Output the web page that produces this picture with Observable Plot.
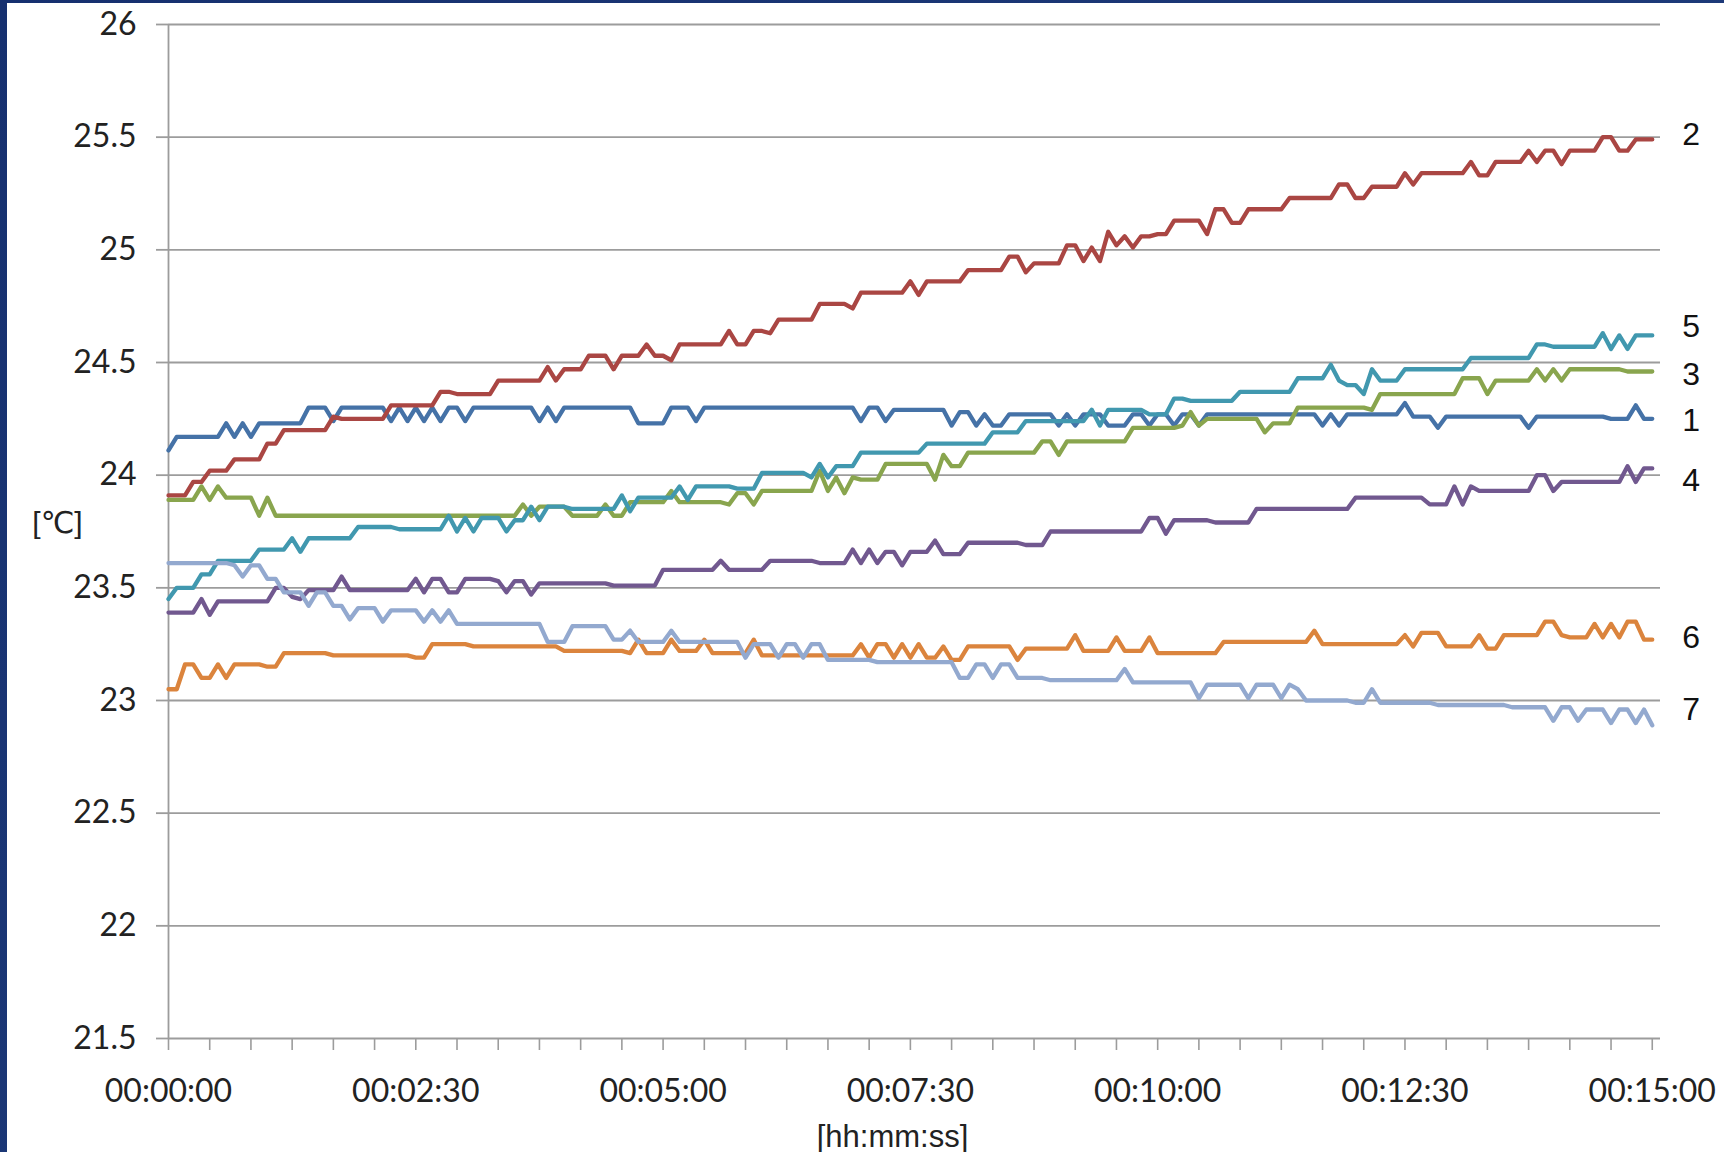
<!DOCTYPE html>
<html>
<head>
<meta charset="utf-8">
<script src="https://cdn.jsdelivr.net/npm/d3@7"></script>
<script src="https://cdn.jsdelivr.net/npm/@observablehq/plot@0.6"></script>
<style>
  html, body { margin: 0; padding: 0; }
  body { width: 1724px; height: 1152px; background: linear-gradient(135deg, #16306f 0%, #22407f 100%); position: relative; overflow: hidden; }
  #frame { position: absolute; left: 7px; top: 3px; width: 1717px; height: 1149px; background: #fff; overflow: hidden; }
  #frame svg { overflow: visible; }
</style>
</head>
<body>
<div id="frame"></div>
<script>
// Samples every 5 s from 00:00:00 to 00:15:00 (181 samples per series)
const seriesNames = ["1", "2", "3", "4", "5", "6", "7"];

const s1 = [
24.11,24.17,24.17,24.17,24.17,24.17,24.17,24.23,24.17,24.23,
24.17,24.23,24.23,24.23,24.23,24.23,24.23,24.30,24.30,24.30,
24.24,24.30,24.30,24.30,24.30,24.30,24.30,24.24,24.30,24.24,
24.30,24.24,24.30,24.24,24.30,24.30,24.24,24.30,24.30,24.30,
24.30,24.30,24.30,24.30,24.30,24.24,24.30,24.24,24.30,24.30,
24.30,24.30,24.30,24.30,24.30,24.30,24.30,24.23,24.23,24.23,
24.23,24.30,24.30,24.30,24.24,24.30,24.30,24.30,24.30,24.30,
24.30,24.30,24.30,24.30,24.30,24.30,24.30,24.30,24.30,24.30,
24.30,24.30,24.30,24.30,24.24,24.30,24.30,24.24,24.29,24.29,
24.29,24.29,24.29,24.29,24.29,24.22,24.28,24.28,24.22,24.27,
24.22,24.22,24.27,24.27,24.27,24.27,24.27,24.27,24.22,24.27,
24.22,24.27,24.27,24.27,24.22,24.22,24.22,24.27,24.27,24.22,
24.27,24.27,24.22,24.27,24.27,24.22,24.27,24.27,24.27,24.27,
24.27,24.27,24.27,24.27,24.27,24.27,24.27,24.27,24.27,24.27,
24.22,24.27,24.22,24.27,24.27,24.27,24.27,24.27,24.27,24.27,
24.32,24.26,24.26,24.26,24.21,24.26,24.26,24.26,24.26,24.26,
24.26,24.26,24.26,24.26,24.26,24.21,24.26,24.26,24.26,24.26,
24.26,24.26,24.26,24.26,24.26,24.25,24.25,24.25,24.31,24.25,
24.25];

const s2 = [
23.91,23.91,23.91,23.97,23.97,24.02,24.02,24.02,24.07,24.07,
24.07,24.07,24.14,24.14,24.20,24.20,24.20,24.20,24.20,24.20,
24.26,24.25,24.25,24.25,24.25,24.25,24.25,24.31,24.31,24.31,
24.31,24.31,24.31,24.37,24.37,24.36,24.36,24.36,24.36,24.36,
24.42,24.42,24.42,24.42,24.42,24.42,24.48,24.42,24.47,24.47,
24.47,24.53,24.53,24.53,24.47,24.53,24.53,24.53,24.58,24.53,
24.53,24.51,24.58,24.58,24.58,24.58,24.58,24.58,24.64,24.58,
24.58,24.64,24.64,24.63,24.69,24.69,24.69,24.69,24.69,24.76,
24.76,24.76,24.76,24.74,24.81,24.81,24.81,24.81,24.81,24.81,
24.86,24.80,24.86,24.86,24.86,24.86,24.86,24.91,24.91,24.91,
24.91,24.91,24.97,24.97,24.90,24.94,24.94,24.94,24.94,25.02,
25.02,24.95,25.01,24.95,25.08,25.02,25.06,25.01,25.06,25.06,
25.07,25.07,25.13,25.13,25.13,25.13,25.07,25.18,25.18,25.12,
25.12,25.18,25.18,25.18,25.18,25.18,25.23,25.23,25.23,25.23,
25.23,25.23,25.29,25.29,25.23,25.23,25.28,25.28,25.28,25.28,
25.34,25.29,25.34,25.34,25.34,25.34,25.34,25.34,25.39,25.33,
25.33,25.39,25.39,25.39,25.39,25.44,25.39,25.44,25.44,25.38,
25.44,25.44,25.44,25.44,25.50,25.50,25.44,25.44,25.49,25.49,
25.49];

const s3 = [
23.89,23.89,23.89,23.89,23.95,23.89,23.95,23.90,23.90,23.90,
23.90,23.82,23.90,23.82,23.82,23.82,23.82,23.82,23.82,23.82,
23.82,23.82,23.82,23.82,23.82,23.82,23.82,23.82,23.82,23.82,
23.82,23.82,23.82,23.82,23.82,23.82,23.82,23.82,23.82,23.82,
23.82,23.82,23.82,23.87,23.82,23.86,23.86,23.86,23.86,23.82,
23.82,23.82,23.82,23.87,23.82,23.82,23.88,23.88,23.88,23.88,
23.88,23.93,23.88,23.88,23.88,23.88,23.88,23.88,23.87,23.92,
23.92,23.87,23.93,23.93,23.93,23.93,23.93,23.93,23.93,24.02,
23.93,23.99,23.92,23.99,23.98,23.98,23.98,24.05,24.05,24.05,
24.05,24.05,24.05,23.98,24.09,24.04,24.04,24.10,24.10,24.10,
24.10,24.10,24.10,24.10,24.10,24.10,24.15,24.15,24.09,24.15,
24.15,24.15,24.15,24.15,24.15,24.15,24.15,24.21,24.21,24.21,
24.21,24.21,24.21,24.22,24.28,24.22,24.25,24.25,24.25,24.25,
24.25,24.25,24.25,24.19,24.23,24.23,24.23,24.30,24.30,24.30,
24.30,24.30,24.30,24.30,24.30,24.30,24.29,24.36,24.36,24.36,
24.36,24.36,24.36,24.36,24.36,24.36,24.36,24.43,24.43,24.43,
24.36,24.42,24.42,24.42,24.42,24.42,24.47,24.42,24.47,24.42,
24.47,24.47,24.47,24.47,24.47,24.47,24.47,24.46,24.46,24.46,
24.46];

const s4 = [
23.39,23.39,23.39,23.39,23.45,23.38,23.44,23.44,23.44,23.44,
23.44,23.44,23.44,23.50,23.50,23.46,23.45,23.49,23.49,23.49,
23.49,23.55,23.49,23.49,23.49,23.49,23.49,23.49,23.49,23.49,
23.54,23.48,23.54,23.54,23.48,23.48,23.54,23.54,23.54,23.54,
23.53,23.48,23.53,23.53,23.47,23.52,23.52,23.52,23.52,23.52,
23.52,23.52,23.52,23.52,23.51,23.51,23.51,23.51,23.51,23.51,
23.58,23.58,23.58,23.58,23.58,23.58,23.58,23.62,23.58,23.58,
23.58,23.58,23.58,23.62,23.62,23.62,23.62,23.62,23.62,23.61,
23.61,23.61,23.61,23.67,23.61,23.67,23.61,23.66,23.66,23.60,
23.66,23.66,23.66,23.71,23.65,23.65,23.65,23.70,23.70,23.70,
23.70,23.70,23.70,23.70,23.69,23.69,23.69,23.75,23.75,23.75,
23.75,23.75,23.75,23.75,23.75,23.75,23.75,23.75,23.75,23.81,
23.81,23.74,23.80,23.80,23.80,23.80,23.80,23.79,23.79,23.79,
23.79,23.79,23.85,23.85,23.85,23.85,23.85,23.85,23.85,23.85,
23.85,23.85,23.85,23.85,23.90,23.90,23.90,23.90,23.90,23.90,
23.90,23.90,23.90,23.87,23.87,23.87,23.95,23.87,23.95,23.93,
23.93,23.93,23.93,23.93,23.93,23.93,24.00,24.00,23.93,23.97,
23.97,23.97,23.97,23.97,23.97,23.97,23.97,24.04,23.97,24.03,
24.03];

const s5 = [
23.45,23.50,23.50,23.50,23.56,23.56,23.62,23.62,23.62,23.62,
23.62,23.67,23.67,23.67,23.67,23.72,23.66,23.72,23.72,23.72,
23.72,23.72,23.72,23.77,23.77,23.77,23.77,23.77,23.76,23.76,
23.76,23.76,23.76,23.76,23.82,23.75,23.81,23.75,23.81,23.81,
23.81,23.75,23.80,23.80,23.86,23.80,23.86,23.86,23.86,23.85,
23.85,23.85,23.85,23.85,23.85,23.91,23.84,23.90,23.90,23.90,
23.90,23.90,23.95,23.89,23.95,23.95,23.95,23.95,23.95,23.94,
23.94,23.94,24.01,24.01,24.01,24.01,24.01,24.01,23.99,24.05,
23.99,24.04,24.04,24.04,24.10,24.10,24.10,24.10,24.10,24.10,
24.10,24.10,24.14,24.14,24.14,24.14,24.14,24.14,24.14,24.14,
24.19,24.19,24.19,24.19,24.24,24.24,24.24,24.24,24.24,24.24,
24.24,24.24,24.29,24.22,24.29,24.29,24.29,24.29,24.29,24.27,
24.27,24.27,24.34,24.34,24.33,24.33,24.33,24.33,24.33,24.33,
24.37,24.37,24.37,24.37,24.37,24.37,24.37,24.43,24.43,24.43,
24.43,24.49,24.42,24.40,24.40,24.36,24.47,24.42,24.42,24.42,
24.47,24.47,24.47,24.47,24.47,24.47,24.47,24.47,24.52,24.52,
24.52,24.52,24.52,24.52,24.52,24.52,24.58,24.58,24.57,24.57,
24.57,24.57,24.57,24.57,24.63,24.56,24.62,24.56,24.62,24.62,
24.62];

const s6 = [
23.05,23.05,23.16,23.16,23.10,23.10,23.16,23.10,23.16,23.16,
23.16,23.16,23.15,23.15,23.21,23.21,23.21,23.21,23.21,23.21,
23.20,23.20,23.20,23.20,23.20,23.20,23.20,23.20,23.20,23.20,
23.19,23.19,23.25,23.25,23.25,23.25,23.25,23.24,23.24,23.24,
23.24,23.24,23.24,23.24,23.24,23.24,23.24,23.24,23.22,23.22,
23.22,23.22,23.22,23.22,23.22,23.22,23.21,23.27,23.21,23.21,
23.21,23.27,23.22,23.22,23.22,23.27,23.21,23.21,23.21,23.21,
23.21,23.27,23.20,23.20,23.20,23.20,23.20,23.20,23.20,23.20,
23.20,23.20,23.20,23.20,23.25,23.19,23.25,23.25,23.19,23.25,
23.19,23.25,23.19,23.19,23.24,23.18,23.18,23.24,23.24,23.24,
23.24,23.24,23.24,23.18,23.23,23.23,23.23,23.23,23.23,23.23,
23.29,23.22,23.22,23.22,23.22,23.28,23.22,23.22,23.22,23.28,
23.21,23.21,23.21,23.21,23.21,23.21,23.21,23.21,23.26,23.26,
23.26,23.26,23.26,23.26,23.26,23.26,23.26,23.26,23.26,23.31,
23.25,23.25,23.25,23.25,23.25,23.25,23.25,23.25,23.25,23.25,
23.29,23.24,23.30,23.30,23.30,23.24,23.24,23.24,23.24,23.29,
23.23,23.23,23.29,23.29,23.29,23.29,23.29,23.35,23.35,23.29,
23.28,23.28,23.28,23.34,23.28,23.34,23.28,23.35,23.35,23.27,
23.27];

const s7 = [
23.61,23.61,23.61,23.61,23.61,23.61,23.61,23.61,23.60,23.55,
23.60,23.60,23.54,23.54,23.48,23.48,23.48,23.42,23.48,23.48,
23.42,23.42,23.36,23.41,23.41,23.41,23.35,23.40,23.40,23.40,
23.40,23.35,23.40,23.35,23.40,23.34,23.34,23.34,23.34,23.34,
23.34,23.34,23.34,23.34,23.34,23.34,23.26,23.26,23.26,23.33,
23.33,23.33,23.33,23.33,23.27,23.27,23.31,23.26,23.26,23.26,
23.26,23.31,23.26,23.26,23.26,23.26,23.26,23.26,23.26,23.26,
23.19,23.25,23.25,23.25,23.19,23.25,23.25,23.19,23.25,23.25,
23.18,23.18,23.18,23.18,23.18,23.18,23.17,23.17,23.17,23.17,
23.17,23.17,23.17,23.17,23.17,23.17,23.10,23.10,23.16,23.16,
23.10,23.16,23.16,23.10,23.10,23.10,23.10,23.09,23.09,23.09,
23.09,23.09,23.09,23.09,23.09,23.09,23.14,23.08,23.08,23.08,
23.08,23.08,23.08,23.08,23.08,23.01,23.07,23.07,23.07,23.07,
23.07,23.01,23.07,23.07,23.07,23.01,23.07,23.05,23.00,23.00,
23.00,23.00,23.00,23.00,22.99,22.99,23.05,22.99,22.99,22.99,
22.99,22.99,22.99,22.99,22.98,22.98,22.98,22.98,22.98,22.98,
22.98,22.98,22.98,22.97,22.97,22.97,22.97,22.97,22.91,22.97,
22.97,22.91,22.96,22.96,22.96,22.90,22.96,22.96,22.90,22.96,
22.89];

const seriesValues = [s1, s2, s3, s4, s5, s6, s7];
const seriesColors = ["#4572A7", "#AA4643", "#89A54E", "#71588F", "#4198AF", "#DB843D", "#93A9CF"];
// vertical nudge (px) of each end label relative to the last point
const labelNudge = [2, -5, 3, 12, -9, -2, -16];

const yTicks = [21.5, 22, 22.5, 23, 23.5, 24, 24.5, 25, 25.5, 26];
const xTickLabels = ["00:00:00", "00:02:30", "00:05:00", "00:07:30", "00:10:00", "00:12:30", "00:15:00"];
const samplesPerLabel = 30;   // 150 s / 5 s
const samplesPerTick = 5;     // 25 s / 5 s
const yTitle = "[\u2103]";
const xTitle = "[hh:mm:ss]";

const rows = seriesNames.flatMap((name, s) =>
  seriesValues[s].map((v, i) => ({i, v, name, color: seriesColors[s]})));
const lastRows = seriesNames.map((name, s) => {
  const vals = seriesValues[s];
  return {i: vals.length - 1, v: vals[vals.length - 1], name, nudge: labelNudge[s]};
});

const nSamples = s1.length;
const minorTicks = d3.range(0, nSamples, samplesPerTick);
const labelTicks = xTickLabels.map((_, j) => j * samplesPerLabel);

const gridColor = "#9c9c9c";
const textColor = "#222";

const chart = Plot.plot({
  width: 1717,
  height: 1149,
  marginLeft: 161,
  marginRight: 64,
  marginTop: 21,
  marginBottom: 114,
  x: {domain: [0, nSamples], axis: null},
  y: {domain: [21.5, 26], axis: null},
  style: {background: "transparent", fontFamily: "Lato, 'Open Sans', sans-serif", color: textColor},
  marks: [
    Plot.gridY(yTicks, {stroke: gridColor, strokeOpacity: 1, strokeWidth: 1.8}),
    Plot.ruleX([0], {stroke: gridColor, strokeWidth: 1.8}),
    Plot.axisY({ticks: yTicks, tickSize: 12, tickPadding: 20, tickFormat: d => String(d),
      fontSize: 32, stroke: gridColor, strokeWidth: 1.8, fill: textColor, label: null}),
    Plot.axisX({ticks: minorTicks, tickSize: 12, tickFormat: () => "", stroke: gridColor, strokeWidth: 1.6, label: null}),
    Plot.axisX({ticks: labelTicks, tickSize: 0, tickPadding: 41, tickFormat: (d) => xTickLabels[labelTicks.indexOf(d)],
      fontSize: 32, fill: textColor, label: null}),
    Plot.line(rows, {x: "i", y: "v", z: "name", stroke: "color", strokeWidth: 4.3,
      strokeLinejoin: "round", strokeLinecap: "round"}),
    ...lastRows.map(r => Plot.text([r], {x: "i", y: "v", text: "name", dx: 39, dy: r.nudge,
      fontSize: 32, fontFamily: "'Liberation Sans', Arial, sans-serif", fill: "#111", textAnchor: "middle"})),
    Plot.text([yTitle], {frameAnchor: "left", dx: -111, dy: -8, fontSize: 30,
      fontFamily: "'Liberation Sans', 'DejaVu Sans', sans-serif", fill: textColor, textAnchor: "middle"}),
    Plot.text([xTitle], {frameAnchor: "bottom", dx: -22, dy: 108, fontSize: 31,
      fontFamily: "'Liberation Sans', Arial, sans-serif", fill: textColor, textAnchor: "middle"})
  ]
});
document.getElementById("frame").appendChild(chart);
</script>
</body>
</html>
